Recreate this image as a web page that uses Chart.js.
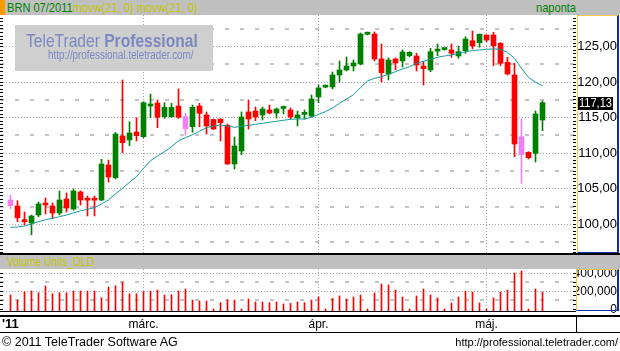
<!DOCTYPE html>
<html>
<head>
<meta charset="utf-8">
<script src="https://cdn.jsdelivr.net/npm/chart.js@4.4.1/dist/chart.umd.min.js"></script>
<style>
  body { margin: 0; background: #fff; }
  #wrap { position: relative; width: 620px; height: 351px; overflow: hidden; background: #fff;
          font-family: "Liberation Sans", Arial, sans-serif; }
  .abs { position: absolute; }
  .nar { display: inline-block; transform: scaleX(0.82); transform-origin: left center; white-space: nowrap; }
  .line { position: absolute; background: #000; }
  .axbox { position: absolute; box-sizing: border-box; pointer-events: none;
           border-left: 1px solid #f0c850; border-top: 1px solid #f0c850;
           border-right: 2px solid #1030a0; border-bottom: 1px solid #1030a0; }
</style>
</head>
<body>
<div id="wrap">
  <div class="abs" style="left:0;top:0;width:620px;height:15px;background:#c0c0c0"></div>
  <div class="abs" style="left:0;top:0;width:5px;height:15px;background:#ff9900"></div>
  <div class="abs" style="left:7px;top:0;line-height:15px;font-size:13.5px"><span class="nar"><span style="color:#008000">BRN 07/2011</span><span style="color:#c4c400">movw(21, 0) movw(21, 0)</span></span></div>
  <div class="abs" style="left:536px;top:0;line-height:15px;font-size:13.5px;color:#008000"><span class="nar">naponta</span></div>

  <canvas id="pc" class="abs" width="620" height="238" style="left:0;top:15px"></canvas>

  <div class="line" style="left:0;top:253px;width:620px;height:2px"></div>
  <div class="abs" style="left:0;top:255px;width:620px;height:14px;background:#c0c0c0"></div>
  <div class="abs" style="left:7px;top:255px;line-height:14px;font-size:12.5px;color:#c4c400"><span class="nar">Volume Units_OLD</span></div>

  <canvas id="vc" class="abs" width="620" height="64" style="left:0;top:269px"></canvas>

  <div class="line" style="left:0;top:311px;width:576px;height:1px"></div>
  <div class="line" style="left:0;top:315px;width:620px;height:2px"></div>
  <div class="line" style="left:0;top:332px;width:620px;height:1px"></div>
  <div class="line" style="left:576px;top:316px;width:1px;height:17px"></div>

  <div class="axbox" style="left:577px;top:15px;width:42px;height:238px"></div>
  <div class="axbox" style="left:576px;top:269px;width:43px;height:42px"></div>

  <div class="abs" style="left:2px;top:316px;line-height:16px;font-size:13px;font-weight:bold">'11</div>
  <div class="abs" style="left:2px;top:333px;line-height:18px;font-size:12.5px;color:#000">© 2011 TeleTrader Software AG</div>
  <div class="abs" style="right:2px;top:333px;line-height:18px;font-size:11px;color:#000">http://professional.teletrader.com/</div>
</div>

<script>
// daily candles, index 0 = first session shown
const openP  = [103.42,102.58,100.61,100.18,101.31,103.00,102.58,101.59,103.56,102.15,
                104.55,103.45,103.45,103.42,108.35,106.56,112.43,111.87,112.99,112.33,
                116.65,117.07,115.15,115.15,116.65,115.15,113.74,116.65,115.39,114.75,
                114.82,113.94,108.49,110.32,115.81,115.95,115.39,116.09,115.67,116.30,
                116.09,114.96,115.48,115.24,117.92,119.31,119.33,121.02,121.72,122.28,
                122.57,126.75,126.79,123.27,121.16,123.27,122.99,123.73,123.69,122.28,
                121.72,124.38,124.60,124.54,123.69,124.44,125.84,125.56,126.65,126.65,
                125.48,122.80,121.02,112.33,110.13,109.99,114.68];
const highP  = [104.12,103.32,101.73,101.31,103.14,103.70,103.00,104.69,104.41,104.97,
                104.69,103.98,103.98,109.15,109.05,112.92,120.31,114.44,115.00,117.26,
                118.34,117.50,117.12,117.03,119.05,115.62,116.79,117.03,115.81,114.82,
                114.85,114.12,112.29,115.81,117.50,116.51,116.51,116.79,116.37,116.65,
                116.37,115.95,116.09,118.20,119.60,119.60,121.44,122.99,123.55,123.13,
                126.93,127.07,127.07,125.38,123.41,123.41,124.54,124.30,124.07,122.89,
                124.77,125.38,124.78,125.38,125.10,126.41,127.21,126.79,126.65,127.03,
                125.56,123.51,122.66,114.82,110.22,115.95,117.36];
const lowP   = [102.20,100.37,99.90,98.54,101.07,101.45,100.84,101.31,101.73,102.01,
                102.72,101.17,101.17,103.32,105.95,106.38,110.08,111.06,111.73,112.15,
                115.00,113.60,114.92,115.06,114.92,112.57,112.95,113.74,112.71,113.35,
                111.73,108.45,107.78,109.80,113.41,114.58,114.68,115.53,114.96,115.53,
                114.82,113.84,114.82,115.10,117.12,119.20,119.05,120.03,121.58,121.58,
                122.43,126.65,122.99,120.03,120.31,121.72,122.14,123.59,121.58,119.61,
                121.48,123.73,124.50,123.51,123.37,124.07,124.68,124.92,125.70,122.33,
                122.33,121.02,109.52,105.77,109.19,108.77,113.18];
const closeP = [102.62,100.93,100.37,101.17,102.86,102.72,101.59,103.42,102.29,104.69,
                103.42,103.40,103.40,108.49,106.66,112.71,111.49,112.85,112.47,117.12,
                116.93,115.06,116.47,116.47,115.06,113.46,116.47,115.62,113.84,113.42,
                114.30,108.49,111.02,115.10,114.82,115.10,116.23,115.67,116.23,116.40,
                115.10,115.39,115.55,117.64,119.19,119.50,121.02,121.72,122.28,122.71,
                126.79,126.85,123.27,121.34,123.13,122.71,124.26,124.21,122.42,121.90,
                124.30,124.48,124.68,124.07,124.30,126.08,125.10,126.75,125.94,125.14,
                122.66,121.16,111.30,109.80,109.38,115.53,117.13];
const pinkDays = [0, 25, 73];

// movw(21, 0)
const movw = [99.58,99.62,99.76,100.04,100.37,100.65,100.84,101.07,101.31,101.59,
              101.91,102.11,102.34,102.86,103.42,104.27,105.07,105.91,106.70,107.88,
              108.95,109.61,110.22,110.92,111.75,112.20,112.60,113.10,113.60,113.84,
              113.98,113.84,113.65,113.79,113.94,114.08,114.22,114.36,114.50,114.64,
              114.78,114.82,114.82,115.06,115.48,115.85,116.37,117.03,117.64,118.24,
              119.23,120.17,120.55,120.78,121.11,121.48,121.86,122.18,122.66,122.94,
              123.23,123.51,123.69,123.83,124.07,124.30,124.44,124.54,124.63,124.68,
              124.63,124.21,123.37,121.96,120.69,119.99,119.51];

const volume = [159000,103000,192000,203000,184000,259000,173000,184000,184000,203000,
                203000,203000,203000,129000,248000,262000,303000,173000,173000,196000,
                203000,214000,159000,162000,203000,226000,103000,92000,92000,3000,
                74000,103000,103000,3000,114000,81000,81000,74000,81000,59000,
                66000,81000,74000,103000,137000,3000,122000,148000,114000,137000,
                159000,3000,181000,281000,270000,214000,137000,3000,148000,226000,
                159000,126000,3000,70000,137000,203000,192000,70000,3000,126000,
                192000,214000,403000,426000,3000,226000,192000];

const monthTicks  = [19, 44, 68];
const monthLabels = ['márc.', 'ápr.', 'máj.'];
const priceTicks  = [100, 105, 110, 115, 120, 125];
const volTicks    = [0, 200000, 400000];

const X_MIN = -1.0714, X_MAX = 80.786;
const P_MIN = 95.96, P_MAX = 129.46;
const V_MIN = -18900, V_MAX = 447800;

const GREEN = '#008000', RED = '#ff0000', PINK = '#f080f0';
const candleColor = openP.map((o, i) =>
  pinkDays.includes(i) ? PINK : (closeP[i] >= o ? GREEN : RED));

const FONT = '"Liberation Sans", Arial, sans-serif';
const NARROW = 0.82;   // horizontal squeeze for the condensed face

function seg(ctx, x1, y1, x2, y2) {
  ctx.beginPath(); ctx.moveTo(x1, y1); ctx.lineTo(x2, y2); ctx.stroke();
}

function narrowText(ctx, text, x, y) {
  ctx.save();
  ctx.translate(x, y);
  ctx.scale(NARROW, 1);
  ctx.fillText(text, 0, 0);
  ctx.restore();
}

// gridlines, tick marks and watermark for one panel
function panelDeco(cfg) {
  return {
    id: 'deco',
    beforeDatasetsDraw(chart) {
      const { ctx, chartArea: a, scales: { x, y } } = chart;
      ctx.save();
      ctx.lineWidth = 1;
      ctx.strokeStyle = '#a8a8a8';
      ctx.setLineDash([1, 2]);
      cfg.major.forEach(v => {
        const py = Math.floor(y.getPixelForValue(v)) + 0.5;
        seg(ctx, a.left, py, a.right, py);
      });
      monthTicks.forEach(v => {
        const px = Math.floor(x.getPixelForValue(v)) + 0.5;
        seg(ctx, px, a.top, px, a.bottom);
      });
      ctx.strokeStyle = '#c4c4c4';
      ctx.lineWidth = 2;
      ctx.setLineDash([4, 11]);
      cfg.minor.forEach(v => {
        const py = Math.round(y.getPixelForValue(v));
        seg(ctx, 0, py, a.right, py);
      });
      ctx.setLineDash([]);
      ctx.lineWidth = 1;
      ctx.strokeStyle = '#000';
      for (let v = cfg.tickFrom; v <= cfg.tickTo; v += cfg.tickStep) {
        const py = Math.floor(y.getPixelForValue(v)) + 0.5;
        if (py < a.top || py > a.bottom) continue;
        seg(ctx, 0, py, 3, py);
        seg(ctx, a.right - 3, py, a.right, py);
      }
      if (cfg.watermark) {
        ctx.fillStyle = '#cfcfcf';
        ctx.fillRect(15, 10, 198, 46);
        ctx.fillStyle = '#7b88c2';
        ctx.textBaseline = 'alphabetic';
        ctx.font = '19px ' + FONT;
        const w = ctx.measureText('TeleTrader ').width * NARROW;
        narrowText(ctx, 'TeleTrader ', 26, 32);
        ctx.font = 'bold 19px ' + FONT;
        narrowText(ctx, 'Professional', 26 + w, 32);
        ctx.font = '12px ' + FONT;
        narrowText(ctx, 'http://professional.teletrader.com/', 48, 44);
      }
      ctx.restore();
    },
    afterDraw(chart) {
      if (!cfg.lastLabel) return;
      const { ctx, scales: { y } } = chart;
      const last = closeP[closeP.length - 1];
      const py = Math.round(y.getPixelForValue(last));
      ctx.save();
      ctx.fillStyle = '#000';
      ctx.fillRect(578, py - 6, 35, 13);
      ctx.fillStyle = '#fff';
      ctx.font = '13.5px ' + FONT;
      ctx.textAlign = 'right';
      ctx.textBaseline = 'middle';
      narrowText(ctx, last.toFixed(2).replace('.', ','), 612, py + 0.5);
      ctx.restore();
    }
  };
}

const commonX = { type: 'linear', min: X_MIN, max: X_MAX, offset: false };

new Chart(document.getElementById('pc'), {
  type: 'bar',
  data: {
    datasets: [
      { type: 'line', data: movw.map((v, i) => ({ x: i, y: v })),
        borderColor: '#129c9c', borderWidth: 1, pointRadius: 0, tension: 0, order: 0 },
      { data: openP.map((o, i) => ({ x: i, y: [Math.min(o, closeP[i]), Math.max(o, closeP[i])] })),
        backgroundColor: candleColor, barThickness: 5, minBarLength: 2, order: 1 },
      { data: lowP.map((l, i) => ({ x: i, y: [l, highP[i]] })),
        backgroundColor: candleColor, barThickness: 1, order: 2 }
    ]
  },
  options: {
    responsive: false, animation: false, devicePixelRatio: 1,
    layout: { padding: { left: 3, right: 3, top: 0, bottom: 0 } },
    datasets: { bar: { grouped: false } },
    plugins: { legend: { display: false }, tooltip: { enabled: false } },
    scales: {
      x: { ...commonX, display: false },
      y: {
        position: 'right', min: P_MIN, max: P_MAX,
        grid: { display: false, drawTicks: false }, border: { display: false },
        afterBuildTicks: s => { s.ticks = priceTicks.map(v => ({ value: v })); },
        afterFit: s => { s.width = 41; s.paddingTop = 0; s.paddingBottom = 0; },
        ticks: { crossAlign: 'far', padding: 7, color: '#000',
                 font: { family: FONT, size: 13 },
                 callback: v => v.toFixed(2).replace('.', ',') }
      }
    }
  },
  plugins: [panelDeco({ major: [100, 105, 110, 115, 120, 125], minor: [97.5, 102.5, 107.5, 112.5, 117.5, 122.5, 127.5],
                        tickFrom: 96, tickTo: 129.5, tickStep: 0.5, watermark: true, lastLabel: true })]
});

new Chart(document.getElementById('vc'), {
  type: 'bar',
  data: {
    datasets: [
      { data: volume.map((v, i) => ({ x: i, y: v })), backgroundColor: '#ff0000',
        barThickness: 1, base: V_MIN }
    ]
  },
  options: {
    responsive: false, animation: false, devicePixelRatio: 1,
    layout: { padding: { left: 3, right: 3, top: 0, bottom: 0 } },
    plugins: { legend: { display: false }, tooltip: { enabled: false } },
    scales: {
      x: {
        ...commonX,
        grid: { display: false, drawTicks: false }, border: { display: false },
        afterBuildTicks: s => { s.ticks = monthTicks.map(v => ({ value: v })); },
        afterFit: s => { s.height = 22; s.paddingLeft = 0; s.paddingRight = 0; },
        ticks: { autoSkip: false, maxRotation: 0, padding: 6, color: '#000',
                 font: { family: FONT, size: 12 },
                 callback: (v, i) => monthLabels[i] }
      },
      y: {
        position: 'right', min: V_MIN, max: V_MAX,
        grid: { display: false, drawTicks: false }, border: { display: false },
        afterBuildTicks: s => { s.ticks = volTicks.map(v => ({ value: v })); },
        afterFit: s => { s.width = 41; s.paddingTop = 0; s.paddingBottom = 0; },
        ticks: { crossAlign: 'far', padding: 1, color: '#000',
                 font: { family: FONT, size: 12 } }
      }
    }
  },
  plugins: [panelDeco({ major: [200000, 400000], minor: [100000, 300000],
                        tickFrom: 0, tickTo: 450000, tickStep: 50000 })]
});
</script>
</body>
</html>
